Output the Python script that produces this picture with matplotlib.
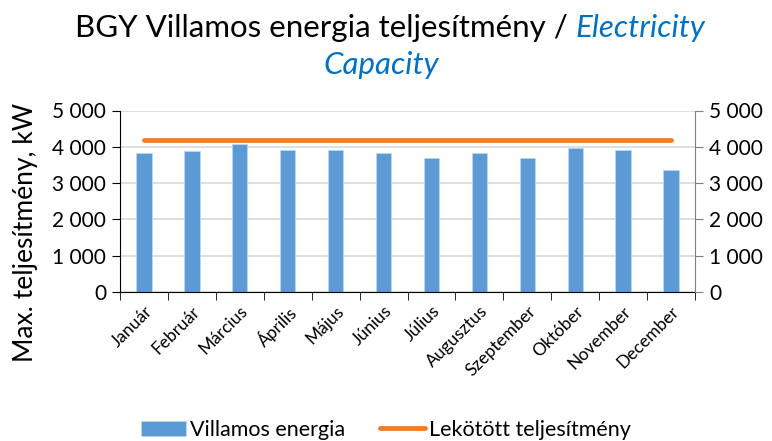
import numpy as np
import matplotlib.pyplot as plt
from matplotlib.ticker import FuncFormatter

months = ['Január', 'Február', 'Március', 'Április', 'Május', 'Június',
          'Július', 'Augusztus', 'Szeptember', 'Október', 'November', 'December']
villamos = [3830, 3880, 4070, 3925, 3925, 3830, 3685, 3830, 3685, 3970, 3925, 3350]
lekotott = [4200] * 12
yticks = [0, 1000, 2000, 3000, 4000, 5000]

plt.rcParams['font.family'] = ['Lato', 'DejaVu Sans']

fig = plt.figure(figsize=(7.72, 4.41), dpi=100)
ax = fig.add_axes([120 / 772, 1 - 292 / 441, (695 - 120) / 772, (292 - 110.5) / 441])

x = np.arange(len(months))
bars = ax.bar(x, villamos, width=0.32, color='#5B9BD5', edgecolor='#BDD7EE', linewidth=0.6,
              label='Villamos energia', zorder=2)
line, = ax.plot(x, lekotott, color='#ED7D31', linewidth=3.5, solid_capstyle='round',
                label='Lekötött teljesítmény', zorder=3)

ax.set_xlim(-0.5, len(months) - 0.5)
ax.set_ylim(0, 5000)
fmt = FuncFormatter(lambda v, p: f'{int(v):,}'.replace(',', ' '))
ax.set_yticks(yticks)
ax.yaxis.set_major_formatter(fmt)
ax.grid(axis='y', color='#D9D9D9', linewidth=1.2, zorder=0)
ax.set_axisbelow(True)

ax.set_xticks(x)
ax.set_xticklabels(months, rotation=45, ha='right', va='top', rotation_mode='anchor',
                   fontsize=12.5)
ax.tick_params(axis='x', length=0, pad=8)
ax.set_xticks(np.arange(-0.5, len(months)), minor=True)
ax.tick_params(axis='x', which='minor', length=6, color='black')
ax.tick_params(axis='y', length=6, labelsize=15, direction='out', pad=4)

ax.spines['top'].set_visible(False)
ax.spines['right'].set_visible(False)
ax.spines['left'].set_color('black')
ax.spines['bottom'].set_color('black')

ax2 = ax.twinx()
ax2.set_ylim(0, 5000)
ax2.set_yticks(yticks)
ax2.yaxis.set_major_formatter(fmt)
ax2.tick_params(axis='y', length=6, labelsize=15, color='#808080', pad=4)
ax2.spines['right'].set_color('#808080')
for s in ['top', 'left', 'bottom']:
    ax2.spines[s].set_visible(False)

ax.set_ylabel('Max. teljesítmény, kW', fontsize=19, va='center')
ax.yaxis.set_label_coords(-0.165, 0.33)

# title: black part + blue italic part
fig.canvas.draw()
r = fig.canvas.get_renderer()
t1 = fig.text(0, 1 - 28 / 441, 'BGY Villamos energia teljesítmény / ', fontsize=22.5,
              va='center', ha='left')
t2 = fig.text(0, 1 - 28 / 441, 'Electricity', fontsize=22.5, va='center', ha='left',
              color='#0070C0', style='italic')
w1 = t1.get_window_extent(r).width
w2 = t2.get_window_extent(r).width
x0 = (772 - (w1 + w2)) / 2 + 4
t1.set_x(x0 / 772)
t2.set_x((x0 + w1) / 772)
fig.text(381 / 772, 1 - 65 / 441, 'Capacity', fontsize=22.5, va='center', ha='center',
         color='#0070C0', style='italic')

fig.legend([bars, line], ['Villamos energia', 'Lekötött teljesítmény'], loc='center',
           bbox_to_anchor=(386 / 772, 1 - 430 / 441), ncol=2,
           frameon=False, fontsize=15.5, handlelength=2.1, columnspacing=1.6,
           handletextpad=0.2)

fig.savefig('out.png', dpi=100)
